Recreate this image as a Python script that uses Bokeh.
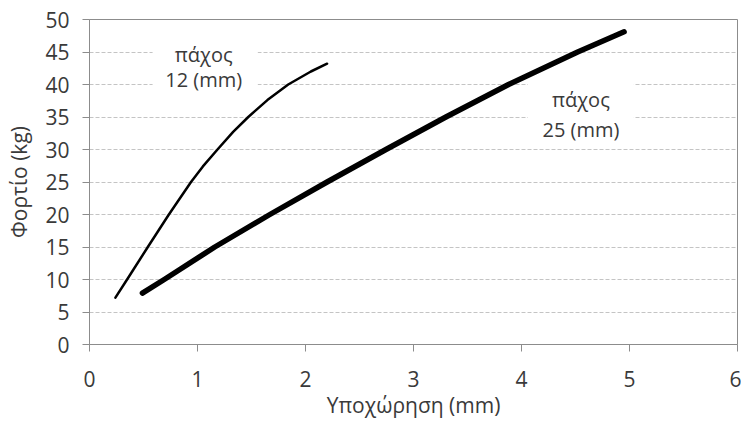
from bokeh.plotting import figure
from bokeh.models import Range1d, Label, BoxAnnotation, FixedTicker
from bokeh.embed import file_html
from bokeh.resources import INLINE

# Data
x_12mm = [0.24, 0.348, 0.54, 0.735, 0.94, 1.05, 1.185, 1.33, 1.47, 1.647, 1.84, 2.05, 2.2]
y_12mm = [7.2, 10, 15, 20, 25, 27.4, 30, 32.7, 35, 37.6, 40, 42.0, 43.2]
x_25mm = [0.49, 0.692, 1.16, 1.67, 2.2, 2.745, 3.30, 3.88, 4.52, 4.95]
y_25mm = [7.9, 10, 15, 20, 25, 30, 35, 40, 45, 48.1]
x_ticks = [0, 1, 2, 3, 4, 5, 6]
y_ticks = [0, 5, 10, 15, 20, 25, 30, 35, 40, 45, 50]

FONT = "Open Sans"
TXT = "#3a3a3a"
AX = "#8c8c8c"

p = figure(width=741, height=421, output_backend="svg", toolbar_location=None,
           x_range=Range1d(0, 6), y_range=Range1d(0, 50),
           min_border_left=89, min_border_right=4, min_border_top=19, min_border_bottom=76)

p.outline_line_color = AX
p.outline_line_width = 1
p.background_fill_color = "white"

p.xgrid.grid_line_color = None
p.ygrid.grid_line_color = "#c4c4c4"
p.ygrid.grid_line_dash = "4 2"
p.ygrid.grid_line_width = 1
p.ygrid.ticker = FixedTicker(ticks=y_ticks)

for ax in (p.xaxis[0], p.yaxis[0]):
    ax.axis_line_color = AX
    ax.major_tick_line_color = AX
    ax.minor_tick_line_color = None
    ax.major_tick_in = 0
    ax.major_tick_out = 7
    ax.major_label_text_font = FONT
    ax.major_label_text_font_size = "21px"
    ax.major_label_text_color = TXT
    ax.axis_label_text_font = FONT
    ax.axis_label_text_font_size = "21px"
    ax.axis_label_text_font_style = "normal"
    ax.axis_label_text_color = TXT

p.xaxis.ticker = FixedTicker(ticks=x_ticks)
p.yaxis.ticker = FixedTicker(ticks=y_ticks)
p.xaxis.axis_label = "Υποχώρηση (mm)"
p.yaxis.axis_label = "Φορτίο (kg)"
p.xaxis.major_label_standoff = 19
p.yaxis.major_label_standoff = 13
p.xaxis.axis_label_standoff = 1
p.yaxis.axis_label_standoff = 9

# label background boxes
p.add_layout(BoxAnnotation(left=0.584, right=1.557, bottom=37.6, top=47.6,
                           fill_color="white", fill_alpha=1, line_alpha=0, level="underlay"))
p.add_layout(BoxAnnotation(left=4.06, right=5.04, bottom=31.0, top=40.5,
                           fill_color="white", fill_alpha=1, line_alpha=0, level="underlay"))

p.line(x_12mm, y_12mm, line_color="black", line_width=2.5, line_join="round", line_cap="round")
p.line(x_25mm, y_25mm, line_color="black", line_width=5.5, line_join="round", line_cap="round")

for (lx, ly, t) in [(1.057, 44.55, "πάχος"), (1.057, 40.7, "12 (mm)"),
                    (4.55, 37.63, "πάχος"), (4.55, 33.1, "25 (mm)")]:
    p.add_layout(Label(x=lx, y=ly, text=t, text_align="center", text_baseline="middle",
                       text_font=FONT, text_font_size="20px", text_color=TXT))

open("out.html", "w").write(file_html(p, INLINE))
